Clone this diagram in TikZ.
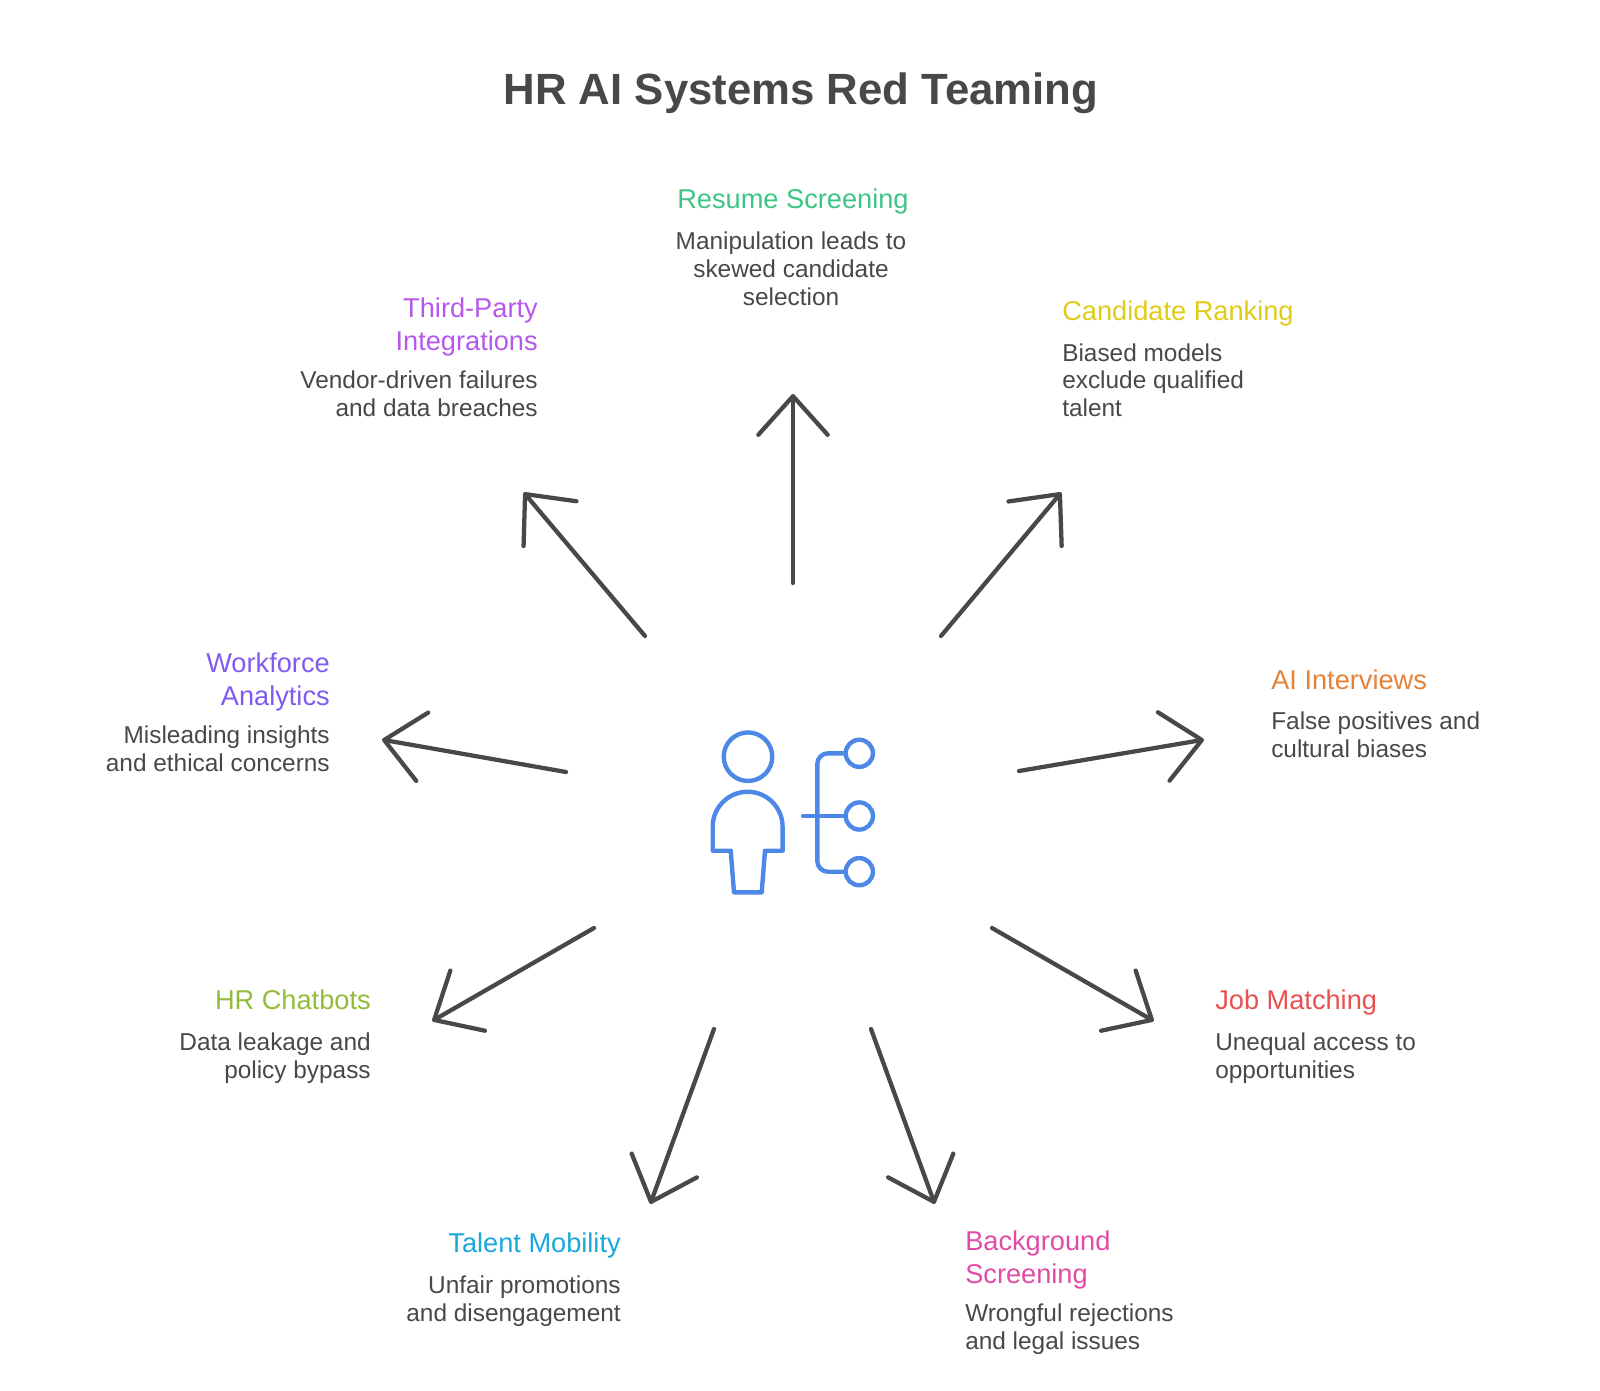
\documentclass[tikz,border=0pt]{standalone}
\usepackage{fontspec}
\setmainfont{Liberation Sans}
\usepackage{xcolor}
\definecolor{ink}{RGB}{72,72,72}
\definecolor{iconblue}{RGB}{78,136,231}
\definecolor{resumegreen}{RGB}{60,197,131}
\definecolor{rankyellow}{RGB}{224,203,21}
\definecolor{interviewamber}{RGB}{228,130,55}
\definecolor{matchred}{RGB}{233,80,80}
\definecolor{screenpink}{RGB}{225,75,166}
\definecolor{mobilitycyan}{RGB}{26,167,222}
\definecolor{chatbotlime}{RGB}{146,189,57}
\definecolor{analyticsviolet}{RGB}{126,92,240}
\definecolor{vendorpurple}{RGB}{181,88,235}
\usetikzlibrary{arrows.meta}

\begin{document}
\begin{tikzpicture}[
  x=0.75pt, y=-0.75pt,
  title/.style={font=\fontsize{32.8}{38}\selectfont\bfseries, color=ink, inner sep=0pt},
  head/.style={font=\fontsize{20.4}{24.4}\selectfont, inner sep=0pt},
  desc/.style={font=\fontsize{18.3}{20.7}\selectfont, color=ink, inner sep=0pt},
  spoke/.style={line width=3.2pt, color=ink, line cap=round, line join=round, shorten >=-1.5pt,
                -{Straight Barb[length=29pt, width=52pt, round]}},
  iconline/.style={line width=3.3pt, color=iconblue, line cap=round, line join=round},
]
  \useasboundingbox (0,0) rectangle (1600,1391);

  % Title
  \node[title, anchor=base] (maintitle) at (801,105) {HR AI Systems Red Teaming};

  % Topic headings and their notes
  \node[head, anchor=base, color=resumegreen] (resume) at (793,209) {Resume Screening};
  \node[desc, anchor=base, align=center] (resumenote) at (791,305) {Manipulation leads to\\skewed candidate\\selection};

  \node[head, anchor=base east, align=right, color=vendorpurple] (vendor) at (538,350) {Third-Party\\Integrations};
  \node[desc, anchor=base east, align=right] (vendornote) at (538,416.5) {Vendor-driven failures\\and data breaches};

  \node[head, anchor=base west, color=rankyellow] (rank) at (1062,320) {Candidate Ranking};
  \node[desc, anchor=base west, align=left] (ranknote) at (1062,416.5) {Biased models\\exclude qualified\\talent};

  \node[head, anchor=base west, color=interviewamber] (interview) at (1271,689) {AI Interviews};
  \node[desc, anchor=base west, align=left] (interviewnote) at (1271,757.5) {False positives and\\cultural biases};

  \node[head, anchor=base west, color=matchred] (match) at (1215,1009) {Job Matching};
  \node[desc, anchor=base west, align=left] (matchnote) at (1215,1078) {Unequal access to\\opportunities};

  \node[head, anchor=base west, align=left, color=screenpink] (screen) at (965,1283) {Background\\Screening};
  \node[desc, anchor=base west, align=left] (screennote) at (965,1349) {Wrongful rejections\\and legal issues};

  \node[head, anchor=base east, color=mobilitycyan] (mobility) at (621,1252) {Talent Mobility};
  \node[desc, anchor=base east, align=right] (mobilitynote) at (621,1321) {Unfair promotions\\and disengagement};

  \node[head, anchor=base east, color=chatbotlime] (chatbot) at (371,1009) {HR Chatbots};
  \node[desc, anchor=base east, align=right] (chatbotnote) at (371,1078) {Data leakage and\\policy bypass};

  \node[head, anchor=base east, align=right, color=analyticsviolet] (analytics) at (330,705) {Workforce\\Analytics};
  \node[desc, anchor=base east, align=right] (analyticsnote) at (330,771.5) {Misleading insights\\and ethical concerns};

  % Arrow ends
  \coordinate (resumefrom) at (793,583);
  \coordinate (resumeto) at (793,396);
  \coordinate (rankfrom) at (941,636);
  \coordinate (rankto) at (1060,494);
  \coordinate (interviewfrom) at (1019,771);
  \coordinate (interviewto) at (1202,740);
  \coordinate (matchfrom) at (992,928);
  \coordinate (matchto) at (1152,1020);
  \coordinate (screenfrom) at (871,1029);
  \coordinate (screento) at (934,1202);
  \coordinate (mobilityfrom) at (714,1029);
  \coordinate (mobilityto) at (651,1202);
  \coordinate (chatbotfrom) at (594,928);
  \coordinate (chatbotto) at (434,1020);
  \coordinate (analyticsfrom) at (566,772);
  \coordinate (analyticsto) at (384,740);
  \coordinate (vendorfrom) at (645,636);
  \coordinate (vendorto) at (525,494);

  % Arrows
  \draw[spoke] (resumefrom) -- (resumeto);
  \draw[spoke] (rankfrom) -- (rankto);
  \draw[spoke] (interviewfrom) -- (interviewto);
  \draw[spoke] (matchfrom) -- (matchto);
  \draw[spoke] (screenfrom) -- (screento);
  \draw[spoke] (mobilityfrom) -- (mobilityto);
  \draw[spoke] (chatbotfrom) -- (chatbotto);
  \draw[spoke] (analyticsfrom) -- (analyticsto);
  \draw[spoke] (vendorfrom) -- (vendorto);

  % Person icon
  \draw[iconline] (748,756.7) circle[radius=18.2pt];
  \draw[iconline] (712.7,850.7) -- (712.7,826.7) arc[start angle=180, end angle=0, radius=26.2pt]
    -- (782.7,850.7) -- (765,850.7) -- (761.7,892.3) -- (734,892.3) -- (730.7,850.7) -- cycle;

  % Branching icon
  \draw[iconline] (803,816) -- (845,816);
  \draw[iconline, rounded corners=8pt] (845,753.3) -- (817.3,753.3) -- (817.3,871.7) -- (845,871.7);
  \draw[iconline] (859.3,753.3) circle[radius=10.2pt];
  \draw[iconline] (859.3,816) circle[radius=10.2pt];
  \draw[iconline] (859.3,871.7) circle[radius=10.2pt];
\end{tikzpicture}
\end{document}
